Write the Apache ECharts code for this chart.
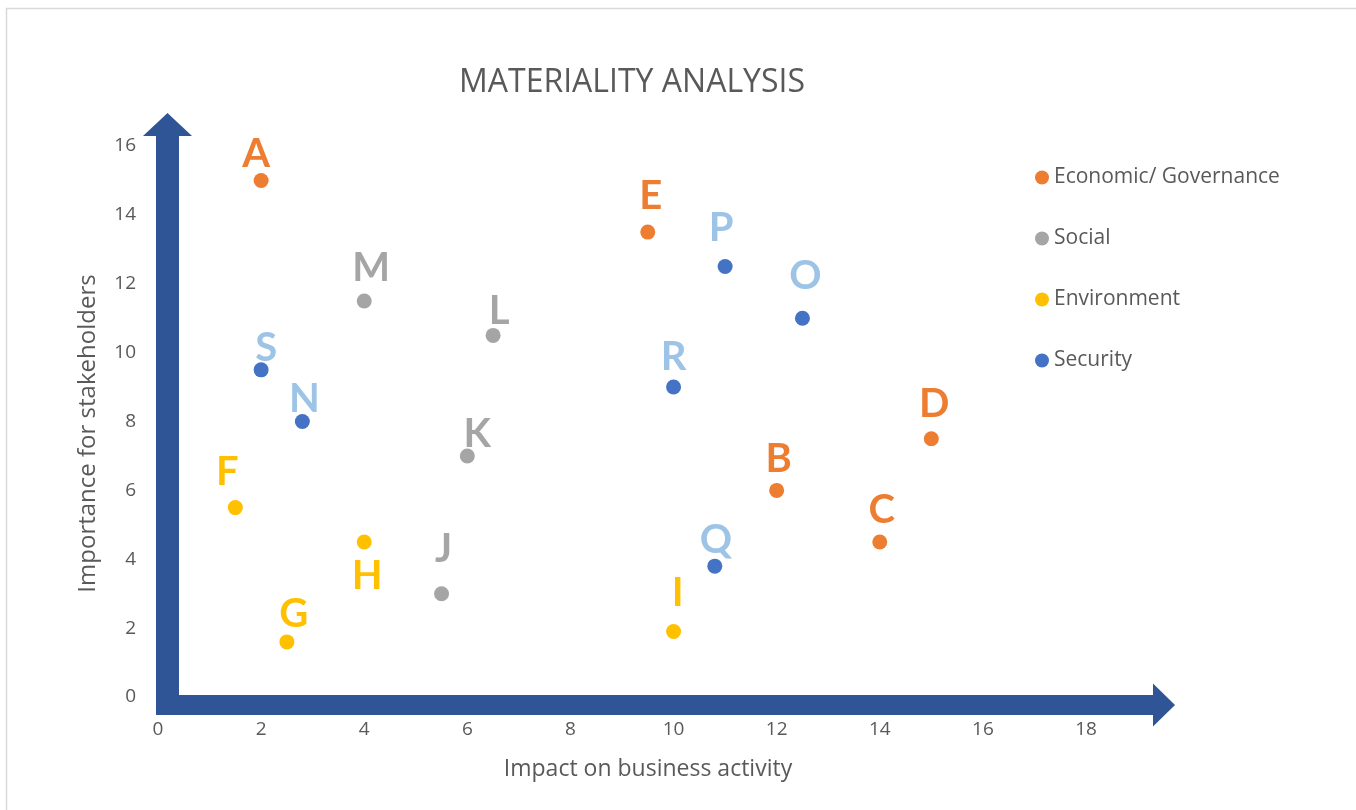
<!DOCTYPE html>
<html>
<head>
<meta charset="utf-8">
<title>Materiality Analysis</title>
<script src="https://cdn.jsdelivr.net/npm/echarts@6/dist/echarts.min.js"></script>
<style>
  html, body { margin: 0; padding: 0; background: #ffffff; }
  #chart { width: 1356px; height: 810px; }
</style>
</head>
<body>
<div id="chart"></div>
<script>
// Topics per group: [letter, impact on business activity, importance for stakeholders]
var economic = [['A', 2, 15], ['E', 9.5, 13.5], ['D', 15, 7.5], ['B', 12, 6], ['C', 14, 4.5]];
var social = [['M', 4, 11.5], ['L', 6.5, 10.5], ['K', 6, 7], ['J', 5.5, 3]];
var environment = [['F', 1.5, 5.5], ['H', 4, 4.5], ['G', 2.5, 1.6], ['I', 10, 1.9]];
var security = [['P', 11, 12.5], ['O', 12.5, 11], ['S', 2, 9.5], ['N', 2.8, 8], ['R', 10, 9], ['Q', 10.8, 3.8]];

var seriesNames = ['Economic/ Governance', 'Social', 'Environment', 'Security'];
var xTicks = [0, 2, 4, 6, 8, 10, 12, 14, 16, 18];
var yTicks = [0, 2, 4, 6, 8, 10, 12, 14, 16];

// Where each letter sits relative to its dot (pixels)
var labelOffsets = {
  A: [-5, -26], E: [3, -36], P: [-4, -38], O: [3, -42], M: [7, -33], L: [6, -24],
  S: [5, -22], N: [2, -22], R: [0, -30], D: [3, -35], K: [10, -22], B: [2, -31],
  F: [-8, -36], H: [3, 34], C: [2, -32], Q: [1, -26], J: [2, -45], I: [4, -38], G: [7, -28]
};

var dotColors = ['#ED7D31', '#A5A5A5', '#FFC000', '#4472C4'];
var letterColors = ['#ED7D31', '#A5A5A5', '#FFC000', '#9DC3E6'];
var groups = [economic, social, environment, security];

var ink = '#595959';
var arrowBlue = '#2F5597';

var chart = echarts.init(document.getElementById('chart'), null, { renderer: 'canvas' });

function buildSeries(rows, i) {
  return {
    name: seriesNames[i],
    type: 'scatter',
    symbol: 'circle',
    symbolSize: 15,
    itemStyle: { color: dotColors[i], opacity: 1 },
    z: 5,
    data: rows.map(function (r) {
      return {
        name: r[0],
        value: [r[1], r[2]],
        label: { offset: labelOffsets[r[0]] || [0, -28] }
      };
    }),
    label: {
      show: true,
      position: 'inside',
      formatter: '{b}',
      color: letterColors[i],
      fontFamily: 'Lato, "Open Sans", sans-serif',
      fontWeight: 'bold',
      fontSize: 40
    },
    emphasis: { disabled: true }
  };
}

var option = {
  backgroundColor: '#ffffff',
  animation: false,
  grid: { left: 158, right: 270, top: 146, bottom: 113, containLabel: false },
  legend: {
    orient: 'vertical',
    left: 1030,
    top: 162,
    itemWidth: 14,
    itemHeight: 14,
    itemGap: 40,
    icon: 'circle',
    data: seriesNames,
    textStyle: { color: ink, fontSize: 21, lineHeight: 20, fontFamily: '"Open Sans", sans-serif' }
  },
  xAxis: {
    type: 'value',
    min: xTicks[0],
    max: xTicks[xTicks.length - 1],
    interval: 2,
    name: 'Impact on business activity',
    nameLocation: 'middle',
    nameGap: 61,
    nameTextStyle: { color: ink, fontSize: 23, fontFamily: '"Open Sans", sans-serif', padding: [0, 0, 0, 52] },
    axisLine: { show: false },
    axisTick: { show: false },
    splitLine: { show: false },
    axisLabel: { color: ink, fontSize: 19, margin: 23, fontFamily: '"Open Sans", sans-serif' }
  },
  yAxis: {
    type: 'value',
    min: yTicks[0],
    max: yTicks[yTicks.length - 1],
    interval: 2,
    name: 'Importance for stakeholders',
    nameLocation: 'middle',
    nameGap: 58,
    nameTextStyle: { color: ink, fontSize: 24, fontFamily: '"Open Sans", sans-serif', padding: [0, 24, 0, 0] },
    axisLine: { show: false },
    axisTick: { show: false },
    splitLine: { show: false },
    axisLabel: { color: ink, fontSize: 19, margin: 22, fontFamily: '"Open Sans", sans-serif' }
  },
  series: groups.map(buildSeries)
};

chart.setOption(option);

// Thick axis arrows and chart frame, placed from the axes' own pixel positions
var origin = chart.convertToPixel({ gridIndex: 0 }, [0, 0]);
var topPt = chart.convertToPixel({ gridIndex: 0 }, [0, yTicks[yTicks.length - 1]]);
var rightPt = chart.convertToPixel({ gridIndex: 0 }, [xTicks[xTicks.length - 1], 0]);

var vx0 = origin[0] - 2, vx1 = origin[0] + 21;      // vertical shaft edges
var hy0 = origin[1] - 2, hy1 = origin[1] + 18;      // horizontal shaft edges
var vTip = topPt[1] - 33, vHeadBase = topPt[1] - 10;
var hTip = rightPt[0] + 89, hHeadBase = rightPt[0] + 67;
var vMid = (vx0 + vx1) / 2, hMid = (hy0 + hy1) / 2;

chart.setOption({
  graphic: [
    {
      type: 'rect', silent: true, z: -1,
      shape: { x: 6.5, y: 8.5, width: 1400, height: 900 },
      style: { fill: 'none', stroke: '#D9D9D9', lineWidth: 1.5 }
    },
    {
      type: 'text', silent: true,
      style: {
        x: 632, y: 83, text: 'MATERIALITY ANALYSIS', textAlign: 'center', textVerticalAlign: 'middle',
        fill: ink, fontSize: 32, fontFamily: '"Open Sans", sans-serif'
      }
    },
    {
      type: 'rect', silent: true, z: 1,
      shape: { x: vx0, y: vHeadBase - 1, width: vx1 - vx0, height: hy1 - vHeadBase + 1 },
      style: { fill: arrowBlue }
    },
    {
      type: 'polygon', silent: true, z: 1,
      shape: { points: [[vMid - 24.5, vHeadBase], [vMid, vTip], [vMid + 24.5, vHeadBase]] },
      style: { fill: arrowBlue }
    },
    {
      type: 'rect', silent: true, z: 1,
      shape: { x: vx0, y: hy0, width: hHeadBase - vx0 + 1, height: hy1 - hy0 },
      style: { fill: arrowBlue }
    },
    {
      type: 'polygon', silent: true, z: 1,
      shape: { points: [[hHeadBase, hMid - 21.5], [hTip, hMid], [hHeadBase, hMid + 21.5]] },
      style: { fill: arrowBlue }
    }
  ]
});
</script>
</body>
</html>
